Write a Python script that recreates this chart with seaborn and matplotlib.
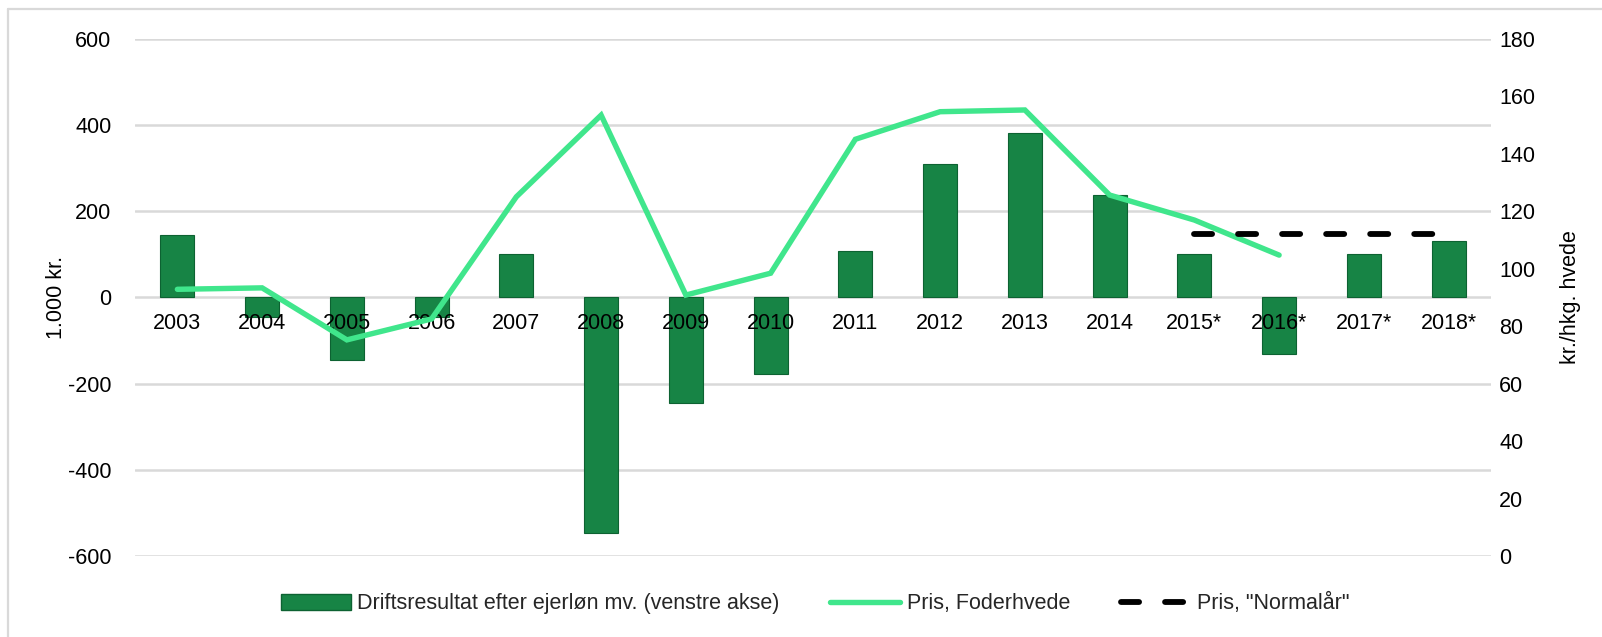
import numpy as np
import pandas as pd
import matplotlib
matplotlib.use("Agg")
import matplotlib.pyplot as plt
import seaborn as sns
from matplotlib.lines import Line2D
from matplotlib.patches import Patch

years = ["2003", "2004", "2005", "2006", "2007", "2008", "2009", "2010",
         "2011", "2012", "2013", "2014", "2015*", "2016*", "2017*", "2018*"]
drift = [145, -45, -146, -45, 100, -547, -245, -177,
         107, 310, 382, 237, 101, -131, 101, 131]
pris_years = years[:14]
pris = [92.8, 93.3, 75.2, 82.5, 125, 153.4, 90.8, 98.4,
        145, 154.6, 155.2, 125.6, 116.9, 104.7]
normal_years = ["2015*", "2016*", "2017*", "2018*"]
normal = [112, 112, 112, 112]

labels = ["Driftsresultat efter ejerløn mv. (venstre akse)",
          "Pris, Foderhvede", "Pris, \"Normalår\""]

sns.set_theme(style="white")
plt.rcParams["font.family"] = ["Liberation Sans", "DejaVu Sans"]
plt.rcParams["axes.unicode_minus"] = False

bar_color = "#178445"
bar_edge = "#0d6232"
line_color = "#40e68c"
grid_color = "#d9d9d9"
fs = 15.5
dash = (3.1, 4.45)

fig = plt.figure(figsize=(16.02, 6.37), dpi=100)
ax = fig.add_axes([135 / 1602, 1 - 556 / 637, (1491 - 135) / 1602, (556 - 38.7) / 637])

df = pd.DataFrame({"year": years, "drift": drift})
sns.barplot(data=df, x="year", y="drift", ax=ax, color=bar_color, width=0.4,
            saturation=1, edgecolor=bar_edge, linewidth=0.8, zorder=1)

ax.set_ylim(-600, 600)
ax.set_yticks([-600, -400, -200, 0, 200, 400, 600])
for v in [-600, -400, -200, 0, 200, 400, 600]:
    ax.axhline(v, color=grid_color, linewidth=1.8, zorder=0)
ax.set_xlim(-0.5, len(years) - 0.5)
for s in ax.spines.values():
    s.set_visible(False)
ax.spines["bottom"].set_position(("data", 0))
ax.xaxis.set_zorder(5)
ax.tick_params(axis="x", length=0, pad=11, labelsize=fs, colors="black")
ax.tick_params(axis="y", length=0, pad=17, labelsize=fs, colors="black")
ax.set_xlabel("")
ax.set_ylabel("1.000 kr.", fontsize=fs, color="black")
ax.yaxis.set_label_coords(-0.0498, 0.50)

ax2 = ax.twinx()
xpos = np.arange(len(years))
pd_line = pd.DataFrame({"x": xpos[:len(pris)], "pris": pris})
sns.lineplot(data=pd_line, x="x", y="pris", ax=ax2, color=line_color,
             linewidth=3.9, solid_capstyle="round", solid_joinstyle="miter")
nx = [years.index(y) for y in normal_years]
pd_norm = pd.DataFrame({"x": nx, "normal": normal})
sns.lineplot(data=pd_norm, x="x", y="normal", ax=ax2, color="black",
             linewidth=4.2, dashes=False)
ax2.lines[-1].set_dashes(dash)
ax2.lines[-1].set_dash_capstyle("round")
ax2.set_ylim(0, 180)
ax2.set_yticks(np.arange(0, 181, 20))
ax2.set_xlim(-0.5, len(years) - 0.5)
for s in ax2.spines.values():
    s.set_visible(False)
ax2.tick_params(axis="y", length=0, pad=6, labelsize=fs, colors="black")
ax2.set_ylabel("kr./hkg. hvede", fontsize=fs, color="black")
ax2.yaxis.set_label_coords(1.051, 0.50)
ax2.set_xlabel("")

handles = [Patch(facecolor=bar_color, edgecolor=bar_edge),
           Line2D([0], [0], color=line_color, linewidth=3.9, solid_capstyle="round"),
           Line2D([0], [0], color="black", linewidth=4.2, linestyle=(0, dash),
                  dash_capstyle="round")]
fig.legend(handles, labels, loc="center", bbox_to_anchor=(0.509, 0.052), ncol=3,
           frameon=False, fontsize=fs, handlelength=3.25, handleheight=0.75,
           columnspacing=2.36, handletextpad=0.3)

# outer frame (left and top edges)
fig.add_artist(Line2D([8 / 1602, 8 / 1602], [0, 1 - 9 / 637], transform=fig.transFigure,
                      color=grid_color, linewidth=1.6))
fig.add_artist(Line2D([8 / 1602, 1], [1 - 9 / 637, 1 - 9 / 637], transform=fig.transFigure,
                      color=grid_color, linewidth=1.6))

fig.savefig("out.png", dpi=100)
